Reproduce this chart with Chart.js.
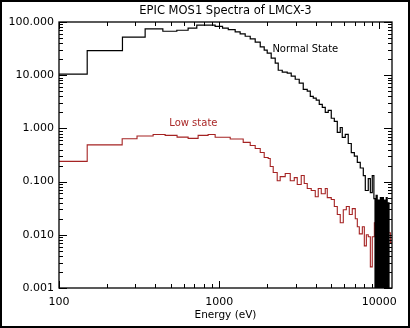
<!DOCTYPE html>
<html>
<head>
<meta charset="utf-8">
<script src="https://cdn.jsdelivr.net/npm/chart.js@4.4.1/dist/chart.umd.min.js"></script>
<style>
    html, body { margin: 0; padding: 0; background: #fff; }
    #wrap { width: 410px; height: 328px; position: relative; }
</style>
</head>
<body>
<div id="wrap"><canvas id="spectrumChart"></canvas></div>
<script>
// Bin edges (eV) and counts; each count holds from its edge to the next one
const normalEdges = [100, 150, 249, 345, 445, 544, 640, 725, 944, 1050,
    1140, 1259, 1352, 1454, 1563, 1679, 1805, 1911, 1995, 2113,
    2239, 2338, 2477, 2661, 2818, 2985, 3162, 3350, 3548, 3707,
    3869, 4037, 4217, 4405, 4597, 4797, 5012, 5236, 5465, 5702,
    5870, 6130, 6397, 6683, 6982, 7288, 7603, 7943, 8175, 8531,
    8790, 9036, 9250, 9400, 9550, 9700, 9850, 10000, 10150, 10300,
    10450, 10600, 10750, 10900, 11050, 11200, 11350, 11500, 11700, 12000];
const normalCounts = [10.5, 29, 52, 74, 67, 70, 77, 87, 83, 77,
    72, 65, 60, 54, 48, 42, 34, 29.6, 26, 21,
    16.8, 12.4, 11.4, 10.9, 9.6, 8.4, 7.1, 5.4, 5.0, 4.0,
    3.7, 3.4, 2.84, 2.49, 2.0, 2.19, 1.55, 1.36, 0.84, 1.04,
    0.68, 0.77, 0.52, 0.35, 0.30, 0.23, 0.18, 0.13, 0.068, 0.114,
    0.062, 0.13, 0.048, 0.0001, 0.055, 0.0001, 0.045, 0.0001, 0.05, 0.0001,
    0.05, 0.0001, 0.045, 0.0001, 0.05, 0.0001, 0.04, 0.0001, 0.0001];

const lowEdges = [100, 150, 248, 307, 387, 460, 546, 640, 739, 853,
    944, 1172, 1413, 1563, 1679, 1805, 1911, 2024, 2084, 2175,
    2304, 2404, 2585, 2779, 2944, 3073, 3254, 3397, 3548, 3758,
    3981, 4156, 4340, 4597, 4732, 5012, 5236, 5465, 5702, 5957,
    6223, 6494, 6778, 7079, 7288, 7499, 7834, 8061, 8299, 8531,
    8790, 9036, 9311, 9572, 9862, 10140, 10450, 10740, 11070, 11380,
    11720, 12050, 12240];
const lowCounts = [0.24, 0.49, 0.64, 0.72, 0.77, 0.74, 0.685, 0.65, 0.74, 0.77,
    0.68, 0.634, 0.545, 0.478, 0.42, 0.352, 0.284, 0.272, 0.192, 0.148,
    0.104, 0.124, 0.142, 0.104, 0.119, 0.088, 0.13, 0.092, 0.074, 0.068,
    0.052, 0.074, 0.059, 0.074, 0.050, 0.046, 0.034, 0.024, 0.0168, 0.0296,
    0.034, 0.024, 0.031, 0.020, 0.0142, 0.0104, 0.0142, 0.0062, 0.010, 0.0092,
    0.0025, 0.0092, 0.0168, 0.0092, 0.005, 0.0119, 0.004, 0.0109, 0.0054, 0.0109,
    0.0071, 0.0084];

const xRange = [100, 12000];
const yRange = [0.001, 100];
const xLabelValues = [100, 1000, 10000];
const titleText = 'EPIC MOS1 Spectra of LMCX-3';

// in-plot labels (energy, counts)
const noteText = ['Normal State', 'Low state'];
const noteEnergy = [3450, 690];
const noteCounts = [31, 1.24];
const noteColor = ['#000', 'rgb(170,40,40)'];

const lowColor = 'rgb(165,35,35)';

function stepPoints(edges, counts) {
    return edges.map((e, i) => ({ x: e, y: counts[Math.min(i, counts.length - 1)] }));
}

function isDecade(v) {
    const l = Math.log10(v);
    return Math.abs(l - Math.round(l)) < 1e-6;
}

// IDL style box with inward ticks, title, in-plot labels and outer frame
const idlBox = {
    id: 'idlBox',
    afterDatasetsDraw(chart) {
        const { ctx, chartArea: a, scales } = chart;
        const xs = scales.x, ys = scales.y;
        ctx.save();
        ctx.strokeStyle = '#000';
        ctx.lineWidth = 1.3;
        ctx.strokeRect(a.left, a.top, a.right - a.left, a.bottom - a.top);

        ctx.lineWidth = 1;
        ctx.beginPath();
        for (let exp = -3; exp <= 2; exp++) {
            for (let m = 1; m <= 9; m++) {
                const v = m * Math.pow(10, exp);
                if (v > yRange[1] * 1.0001) break;
                const py = Math.round(ys.getPixelForValue(v)) + 0.5;
                const len = m === 1 ? 8 : 4;
                ctx.moveTo(a.left, py); ctx.lineTo(a.left + len, py);
                ctx.moveTo(a.right, py); ctx.lineTo(a.right - len, py);
            }
        }
        for (let exp = 2; exp <= 4; exp++) {
            for (let m = 1; m <= 9; m++) {
                const v = m * Math.pow(10, exp);
                if (v > xRange[1]) break;
                const px = Math.round(xs.getPixelForValue(v)) + 0.5;
                const len = m === 1 ? 7 : 4;
                ctx.moveTo(px, a.bottom); ctx.lineTo(px, a.bottom - len);
                ctx.moveTo(px, a.top); ctx.lineTo(px, a.top + len);
            }
        }
        ctx.stroke();

        ctx.textAlign = 'center';
        ctx.textBaseline = 'middle';
        ctx.fillStyle = '#000';
        ctx.font = '11.5px "DejaVu Sans"';
        ctx.fillText(titleText, (a.left + a.right) / 2, 11);

        ctx.font = '10px "DejaVu Sans"';
        noteText.forEach((t, i) => {
            ctx.fillStyle = noteColor[i];
            ctx.fillText(t, xs.getPixelForValue(noteEnergy[i]), ys.getPixelForValue(noteCounts[i]));
        });

        ctx.lineWidth = 2;
        ctx.strokeRect(1, 1, chart.width - 2, chart.height - 2);
        ctx.restore();
    }
};

Chart.defaults.font.family = '"DejaVu Sans", sans-serif';
Chart.defaults.color = '#000';

document.addEventListener('DOMContentLoaded', () => {
    const ctx = document.getElementById('spectrumChart').getContext('2d');
    window.spectrumChart = new Chart(ctx, {
        type: 'line',
        data: {
            datasets: [{
                label: 'Normal State',
                data: stepPoints(normalEdges, normalCounts),
                borderColor: '#000',
                borderWidth: 1.2,
                stepped: 'before',
                pointRadius: 0,
                fill: false
            }, {
                label: 'Low state',
                data: stepPoints(lowEdges, lowCounts),
                borderColor: lowColor,
                borderWidth: 1.1,
                stepped: 'before',
                pointRadius: 0,
                fill: false
            }]
        },
        options: {
            responsive: true,
            maintainAspectRatio: false,
            animation: false,
            layout: { padding: { left: 0, right: 18, top: 22, bottom: 0 } },
            plugins: {
                legend: { display: false },
                tooltip: { enabled: false },
                title: { display: false }
            },
            scales: {
                x: {
                    type: 'logarithmic',
                    min: xRange[0],
                    max: xRange[1],
                    grid: { display: false, drawTicks: false },
                    border: { display: false },
                    ticks: {
                        autoSkip: false,
                        maxRotation: 0,
                        padding: 8,
                        font: { size: 11 },
                        callback: v => xLabelValues.includes(Math.round(v)) ? String(Math.round(v)) : ''
                    },
                    title: { display: true, text: 'Energy (eV)', font: { size: 10.5 }, padding: { top: 0, bottom: 6 } },
                    afterFit: s => { s.height = 40; }
                },
                y: {
                    type: 'logarithmic',
                    min: yRange[0],
                    max: yRange[1],
                    grid: { display: false, drawTicks: false },
                    border: { display: false },
                    ticks: {
                        autoSkip: false,
                        padding: 5,
                        font: { size: 11 },
                        callback: v => isDecade(v) ? v.toFixed(3) : ''
                    },
                    afterFit: s => { s.width = 59; }
                }
            }
        },
        plugins: [idlBox]
    });
});
</script>
</body>
</html>
